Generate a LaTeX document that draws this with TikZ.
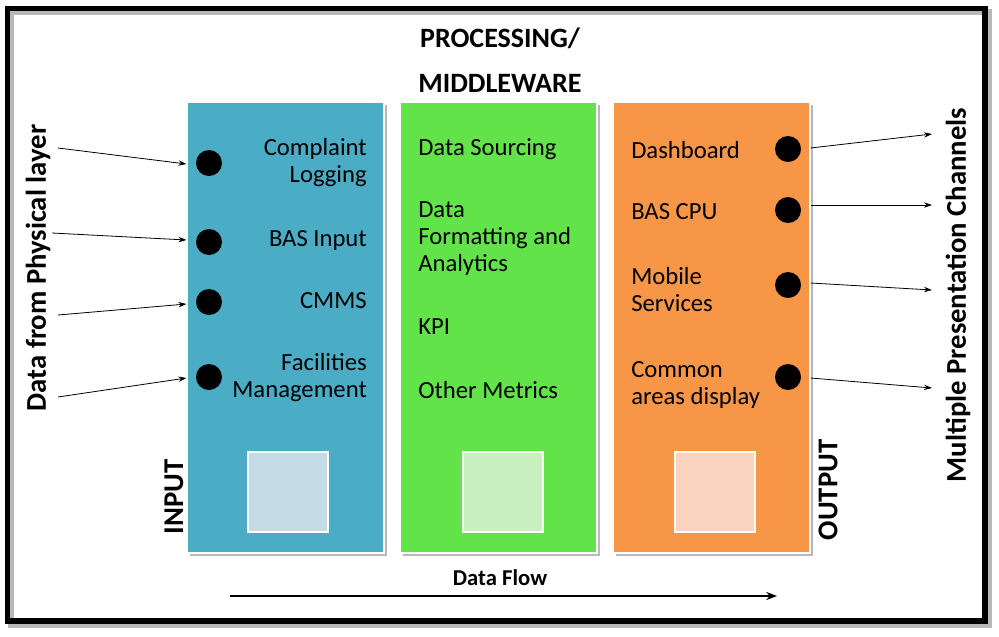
\documentclass[tikz,border=0pt]{standalone}
\usepackage{fontspec}
\setmainfont{Carlito}
\usetikzlibrary{arrows.meta}
\definecolor{cblue}{HTML}{4BACC6}
\definecolor{cgreen}{HTML}{62E34A}
\definecolor{corange}{HTML}{F79646}
\definecolor{lblue}{HTML}{C4DCE5}
\definecolor{lgreen}{HTML}{C9F1C0}
\definecolor{lorange}{HTML}{F9D3BF}
\definecolor{shadowgray}{HTML}{B8B8B8}
\begin{document}
\begin{tikzpicture}[x=0.75pt,y=-0.75pt,
  colbox/.style={draw=white, line width=0.8pt, minimum width=147.75pt, minimum height=338.25pt, inner sep=0pt},
  innerbox/.style={draw=white, line width=1.5pt, minimum width=60pt, minimum height=60pt, inner sep=0pt},
  dot/.style={circle, fill=black, minimum size=19.5pt, inner sep=0pt},
  item/.style={font=\fontsize{18.5}{20.25}\selectfont, inner sep=0pt},
  side/.style={font=\fontsize{21.5}{24}\selectfont\bfseries, rotate=90, inner sep=0pt},
  arr/.style={-{Stealth[length=6pt,width=4pt]}, line width=0.6pt},
  shadowbox/.style={fill=shadowgray, draw=none, minimum width=147.75pt, minimum height=338.25pt}
]
\fill[white] (0,0) rectangle (999,636);
\useasboundingbox (0,0) rectangle (999,636);
% frame
\draw[shadowgray, line width=4pt] (11,12) rectangle (989,625);
\draw[line width=4pt] (7.5,8.5) rectangle (985,621);

% title
\node[font=\fontsize{21}{24}\selectfont\bfseries] (t1) at (500,38) {PROCESSING/};
\node[font=\fontsize{21}{24}\selectfont\bfseries] (t2) at (500,83) {MIDDLEWARE};

% shadows
\node[shadowbox] at (288.5,330.5) {};
\node[shadowbox] at (501.5,330.5) {};
\node[shadowbox] at (714.5,330.5) {};

% columns
\node[colbox, fill=cblue] (blue) at (285.5,327.5) {};
\node[colbox, fill=cgreen] (green) at (498.5,327.5) {};
\node[colbox, fill=corange] (orange) at (711.5,327.5) {};

\node[innerbox, fill=lblue] (ib) at (288,492) {};
\node[innerbox, fill=lgreen] (ig) at (503,492) {};
\node[innerbox, fill=lorange] (io) at (715,492) {};

% blue items
\node[item, anchor=east, align=right] (b1) at (367,163) {Complaint\\Logging};
\node[item, anchor=east, align=right] (b2) at (367,240) {BAS Input};
\node[item, anchor=east, align=right] (b3) at (367,301) {CMMS};
\node[item, anchor=east, align=right] (b4) at (367,378) {Facilities\\Management};

% green items
\node[item, anchor=west, align=left] (g1) at (418,149) {Data Sourcing};
\node[item, anchor=west, align=left] (g2) at (418,239) {Data\\Formatting and\\Analytics};
\node[item, anchor=west, align=left] (g3) at (418,327) {KPI};
\node[item, anchor=west, align=left] (g4) at (418,390) {Other Metrics};

% orange items
\node[item, anchor=west, align=left] (o1) at (631,150) {Dashboard};
\node[item, anchor=west, align=left] (o2) at (631,212) {BAS CPU};
\node[item, anchor=west, align=left] (o3) at (631,290) {Mobile\\Services};
\node[item, anchor=west, align=left] (o4) at (631,385) {Common\\areas display};

% dots
\node[dot] (di1) at (209,163) {};
\node[dot] (di2) at (209,242) {};
\node[dot] (di3) at (209,302) {};
\node[dot] (di4) at (209,377) {};
\node[dot] (do1) at (788,149) {};
\node[dot] (do2) at (788,210) {};
\node[dot] (do3) at (788,285) {};
\node[dot] (do4) at (788,377) {};

% side labels
\node[side] (lin) at (38,268) {Data from Physical layer};
\node[side] (lout) at (958,295) {Multiple Presentation Channels};
\node[side] (inp) at (174,497) {INPUT};
\node[side] (outp) at (828,490) {OUTPUT};

% input arrows
\coordinate (a1) at (58,148);
\coordinate (a2) at (52,233);
\coordinate (a3) at (58,315);
\coordinate (a4) at (58,397);
\draw[arr] (a1) -- (blue.west |- 0,164);
\draw[arr] (a2) -- (blue.west |- 0,240);
\draw[arr] (a3) -- (blue.west |- 0,304);
\draw[arr] (a4) -- (blue.west |- 0,378);

% output arrows
\coordinate (e1) at (932,134);
\coordinate (e2) at (932,205);
\coordinate (e3) at (932,290);
\coordinate (e4) at (932,388);
\draw[arr] (orange.east |- 0,148) -- (e1);
\draw[arr] (orange.east |- 0,205) -- (e2);
\draw[arr] (orange.east |- 0,283) -- (e3);
\draw[arr] (orange.east |- 0,378) -- (e4);

% data flow
\node[font=\fontsize{17}{20}\selectfont\bfseries] (df) at (500,578) {Data Flow};
\coordinate (f1) at (230,596);
\coordinate (f2) at (777,596);
\draw[-{Stealth[length=8pt,width=6pt]}, line width=1.8pt] (f1) -- (f2);
\end{tikzpicture}
\end{document}
